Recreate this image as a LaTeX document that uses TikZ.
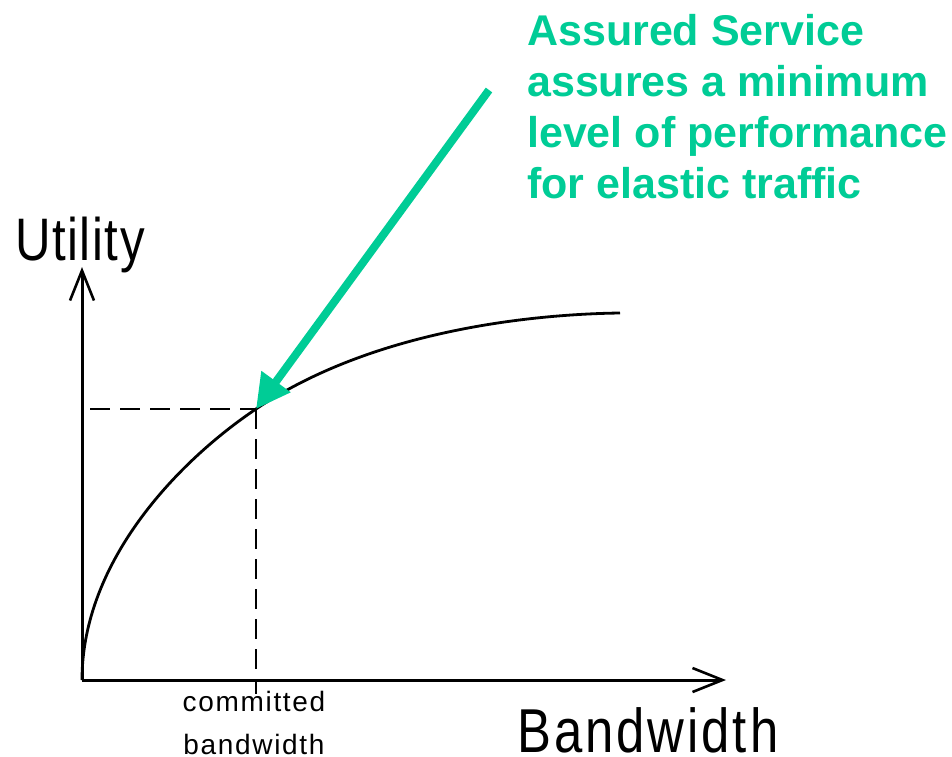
\documentclass[tikz,border=0pt]{standalone}
\usepackage{fontspec}
\setmainfont{Liberation Sans}
\newfontfamily\axisfont[FakeStretch=0.82]{Liberation Sans}
\newfontfamily\smallfont{Liberation Sans}
\usetikzlibrary{arrows.meta}
\definecolor{asgreen}{RGB}{0,204,150}
\tikzset{
  axis/.style={line width=3pt, -{Straight Barb[length=30pt,width=24pt,line width=2.6pt]}},
  curve/.style={line width=2.8pt},
  guide/.style={line width=2.6pt, dash pattern=on 20pt off 10pt},
  callout/.style={asgreen, line width=8pt, -{Triangle[length=34pt,width=34pt]}},
  bigaxislabel/.style={inner sep=0pt, anchor=base west},
}
\begin{document}
\begin{tikzpicture}[x=1pt,y=-1pt]
\useasboundingbox (0,0) rectangle (952,756);
\coordinate (O) at (82,680);
\coordinate (ytip) at (82,267);
\coordinate (xtip) at (726,680);
\coordinate (pt) at (256,409);
\coordinate (cend) at (620,313);
\coordinate (hstart) at (90,409);
\coordinate (vend) at (256,694);
\coordinate (tail) at (489,90);
% axes
\draw[axis] (O) -- (ytip);
\draw[axis] (O) -- (xtip);
% utility curve
\draw[curve] (O) .. controls (82,560) and (180,460) .. (pt)
                 .. controls (376,328) and (540,314) .. (cend);
% guides
\draw[guide] (hstart) -- (pt);
\draw[guide] (pt) -- (vend);
% callout arrow
\draw[callout] (tail) -- (pt);
% labels
\node[bigaxislabel] (ulab) at (15,260) {\axisfont\fontsize{60}{60}\selectfont\addfontfeature{LetterSpace=2.6}Utility};
\node[bigaxislabel] (blab) at (517,752) {\axisfont\fontsize{62}{62}\selectfont\addfontfeature{LetterSpace=4.8}Bandwidth};
\node[inner sep=0pt, anchor=base, align=center, font=\smallfont\fontsize{28}{43}\selectfont] (clab) at (254,754) {\addfontfeature{LetterSpace=6}committed\\\addfontfeature{LetterSpace=6}bandwidth};
\node[inner sep=0pt, anchor=north west, align=left, text=asgreen, font=\bfseries\fontsize{43}{51}\selectfont] (note) at (527,14) {Assured Service\\assures a minimum\\level of performance\\for elastic traffic};
\end{tikzpicture}
\end{document}
